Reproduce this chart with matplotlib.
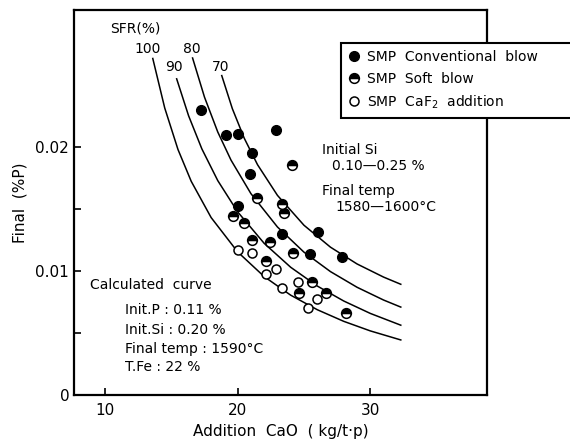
import matplotlib
matplotlib.use('Agg')
from matplotlib import pyplot as plt
from matplotlib.lines import Line2D

plt.rcParams['font.family'] = ['DejaVu Sans']

# SFR calculated curves
x100 = [13.6, 14.5, 15.5, 16.5, 18, 20, 22, 24, 26, 28, 30, 32.3]
p100 = [0.02714, 0.02315, 0.01980, 0.01723, 0.01431, 0.01154, 0.00955, 0.00805, 0.00688, 0.00594, 0.00517, 0.00444]
x90 = [15.4, 16.3, 17.3, 18.5, 20, 22, 24, 26, 28, 30, 32.3]
p90 = [0.0255, 0.02252, 0.01985, 0.01729, 0.01477, 0.01223, 0.0103, 0.00879, 0.00758, 0.00658, 0.00563]
x80 = [16.6, 17.5, 18.5, 19.5, 21, 23, 25, 27, 29, 31, 32.3]
p80 = [0.02718, 0.02402, 0.02121, 0.01894, 0.01624, 0.01355, 0.01152, 0.00995, 0.00869, 0.00766, 0.00709]
x70 = [18.8, 19.6, 20.5, 21.5, 23, 25, 27, 29, 31, 32.3]
p70 = [0.02576, 0.02309, 0.0207, 0.01857, 0.0161, 0.01369, 0.01192, 0.01057, 0.00951, 0.00893]

# measured points
conv_x = [17.25, 19.11, 20.02, 22.91, 21.07, 20.94, 20.02, 23.38, 26.05, 25.42, 27.86]
conv_p = [0.02298, 0.02097, 0.02102, 0.02137, 0.01949, 0.01782, 0.01527, 0.01298, 0.01317, 0.01137, 0.01110]
soft_x = [24.09, 21.49, 23.34, 23.46, 19.68, 20.51, 21.09, 22.45, 24.21, 22.10, 25.6, 24.64, 26.68, 28.17]
soft_p = [0.01855, 0.01591, 0.01538, 0.01465, 0.01446, 0.01385, 0.0125, 0.01236, 0.01148, 0.01083, 0.00909, 0.0082, 0.0082, 0.00664]
caf_x = [20.06, 21.07, 22.91, 22.10, 24.54, 23.34, 25.98, 25.27]
caf_p = [0.01169, 0.01143, 0.01016, 0.00976, 0.00914, 0.0086, 0.00772, 0.00704]

W, H = 570, 446
fig = plt.figure(figsize=(W / 100, H / 100), dpi=100)
ax = fig.add_axes([74 / W, 1 - 395 / H, (487 - 74) / W, (395 - 10) / H])


def px(x, y):
    return x / W, 1 - y / H


for xs, ps in [(x100, p100), (x90, p90), (x80, p80), (x70, p70)]:
    ax.plot(xs, ps, color='black', lw=1.1)

ax.plot(conv_x, conv_p, 'o', color='black', ms=7)
ax.plot(soft_x, soft_p, 'o', ms=7, fillstyle='top', markerfacecolor='black',
        markerfacecoloralt='white', markeredgecolor='black', mew=1.1)
ax.plot(caf_x, caf_p, 'o', ms=6.5, markerfacecolor='white',
        markeredgecolor='black', mew=1.1)

ax.set_xlim(7.66, 38.8)
ax.set_ylim(0, 0.03105)
ax.set_xticks([10, 20, 30])
ax.set_xticklabels(['10', '20', '30'])
ax.set_yticks([0, 0.01, 0.02])
ax.set_yticklabels(['0', '0.01', '0.02'])
ax.set_yticks([0.005, 0.015], minor=True)
ax.tick_params(which='both', direction='in', length=5, width=1.2, labelsize=11)
ax.tick_params(axis='x', pad=6)
for s in ax.spines.values():
    s.set_linewidth(1.6)

ax.set_xlabel('Addition  CaO  ( kg/t·p)', fontsize=11, labelpad=4)
ax.set_ylabel('Final  (%P)', fontsize=11, labelpad=6)

fs = 10
fig.text(*px(110, 29), 'SFR(%)', fontsize=fs, va='center')
fig.text(*px(148, 49), '100', fontsize=fs, va='center', ha='center')
fig.text(*px(192, 49), '80', fontsize=fs, va='center', ha='center')
fig.text(*px(174, 67), '90', fontsize=fs, va='center', ha='center')
fig.text(*px(221, 67), '70', fontsize=fs, va='center', ha='center')

fig.text(*px(322, 150), 'Initial Si', fontsize=fs, va='center')
fig.text(*px(332, 166), '0.10—0.25 %', fontsize=fs, va='center')
fig.text(*px(322, 191), 'Final temp', fontsize=fs, va='center')
fig.text(*px(335, 207), '1580—1600°C', fontsize=fs, va='center')

fig.text(*px(90, 285), 'Calculated  curve', fontsize=fs, va='center')
fig.text(*px(125, 310), 'Init.P : 0.11 %', fontsize=fs, va='center')
fig.text(*px(125, 330), 'Init.Si : 0.20 %', fontsize=fs, va='center')
fig.text(*px(125, 349), 'Final temp : 1590°C', fontsize=fs, va='center')
fig.text(*px(125, 367), 'T.Fe : 22 %', fontsize=fs, va='center')

handles = [
    Line2D([], [], ls='none', marker='o', color='black', ms=7),
    Line2D([], [], ls='none', marker='o', ms=7, fillstyle='top', markerfacecolor='black',
           markerfacecoloralt='white', markeredgecolor='black', mew=1.1),
    Line2D([], [], ls='none', marker='o', ms=6.5, markerfacecolor='white',
           markeredgecolor='black', mew=1.1),
]
labels = ['SMP  Conventional  blow', 'SMP  Soft  blow', 'SMP  CaF$_2$  addition']
x0, y0 = px(341, 43)
leg = fig.legend(handles, labels, loc='upper left', bbox_to_anchor=(x0, y0 - 0.2, 260 / W, 0.2),
                 mode='expand', borderaxespad=0, fontsize=fs, frameon=True, fancybox=False,
                 edgecolor='black', framealpha=1, handlelength=0.8, handletextpad=0.6,
                 labelspacing=0.55, borderpad=0.5)
leg.get_frame().set_linewidth(1.5)

fig.savefig('out.png', dpi=100)
